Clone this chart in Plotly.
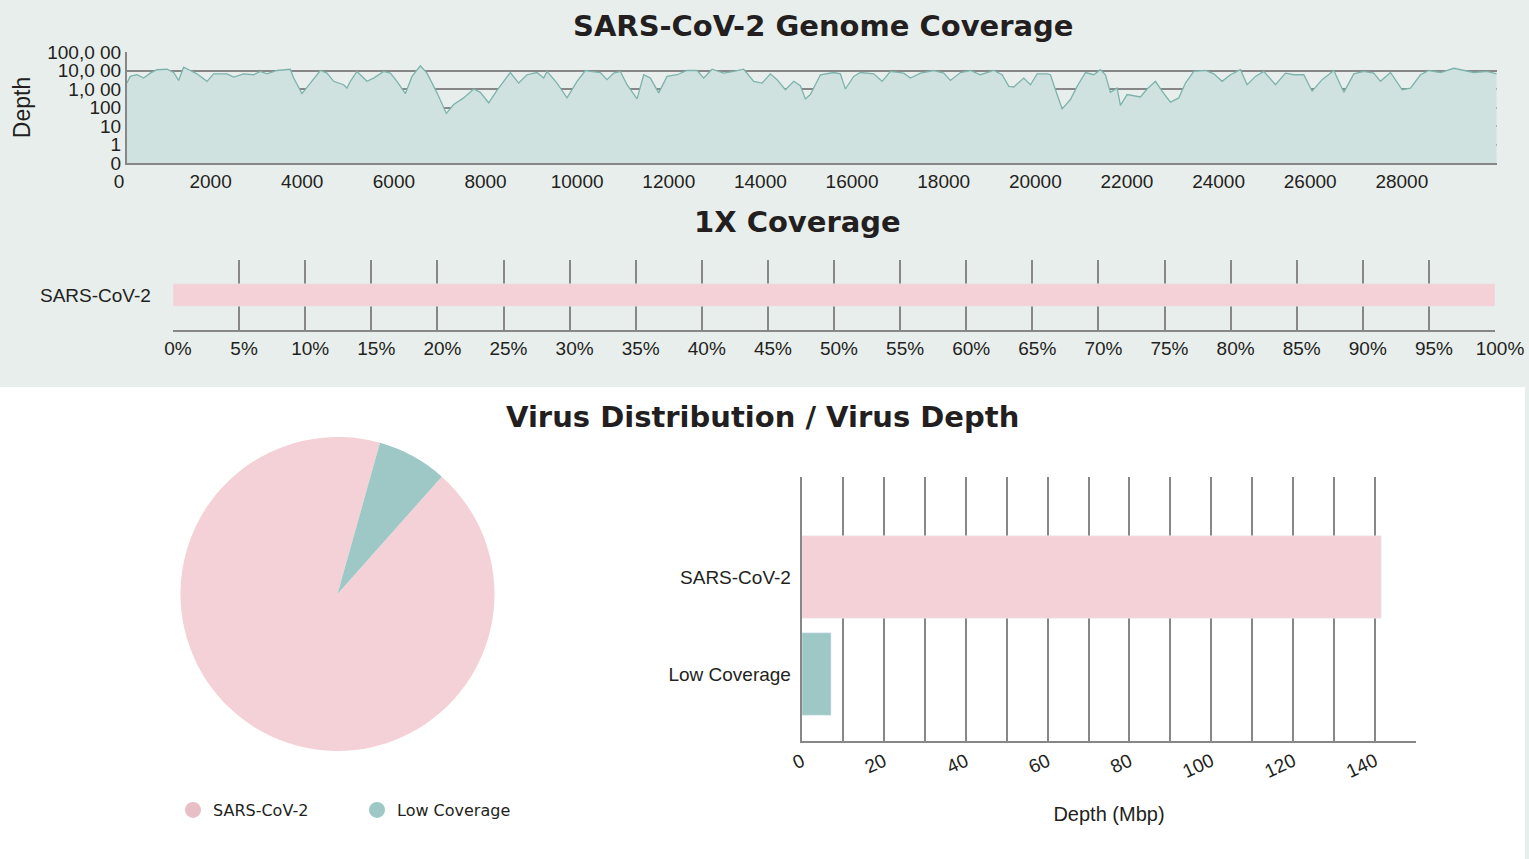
import plotly.graph_objects as go

# ---------------- data ----------------
GENOME_POS = [0, 70, 218, 363, 509, 655, 873, 1018, 1127, 1236, 1382, 1527, 1746, 1891, 2182, 2328, 2546, 2764,
              2910, 3055, 3274, 3565, 3638, 3820, 4001, 4220, 4365, 4511, 4729, 4802, 4875, 5020, 5238, 5384,
              5602, 5748, 5893, 6075, 6221, 6403, 6548, 6767, 6970, 7130, 7348, 7567, 7712, 7894, 8076, 8222,
              8367, 8549, 8731, 8949, 9095, 9168, 9386, 9604, 9823, 10005,
              10114, 10332, 10478, 10623, 10769, 10914, 11133, 11278, 11424, 11606, 11788, 12006, 12224, 12443,
              12588, 12770, 13025, 13243, 13461, 13680, 13862, 14043, 14189, 14371, 14553, 14698, 14807, 14916,
              15135, 15426, 15571, 15681, 15862, 16008, 16299, 16481, 16663, 16954, 17100, 17318, 17609, 17827,
              17973, 18191, 18410, 18628, 18919, 19101, 19247, 19356, 19574, 19720, 19865, 20083,
              20156, 20265, 20411, 20592, 20738, 20920, 21102, 21247, 21356, 21465, 21611, 21684, 21829, 22120,
              22266, 22448, 22593, 22775, 22957, 23103, 23285, 23539, 23721, 23903, 24085, 24303, 24449, 24631,
              24813, 25067, 25286, 25468, 25686, 25868, 26086, 26341, 26559, 26778, 26996, 27214, 27360, 27578,
              27833, 28015, 28233, 28415, 28670, 28961, 29179, 29397, 29688, 29892]
GENOME_DEPTH = [2100, 4800, 5900, 3900, 7200, 11000, 11700, 7800, 2900, 15100, 10000, 6600, 2600, 6600, 6600, 4400,
                6600, 5900, 8900, 6600, 10000, 11700, 3900, 560, 2100, 10000, 7200, 2600, 1700, 1120, 2600, 8900,
                2600, 3900, 8900, 7200, 2600, 560, 4800, 17800, 7200, 620, 48, 145, 330, 1000, 660, 180, 850, 2600,
                7800, 2100, 5900, 7800, 3900, 8900, 2100, 330, 2600, 10000,
                8900, 7800, 3200, 7200, 8900, 1700, 290, 5900, 3900, 620, 4800, 5900, 10000, 10000,
                3900, 11700, 7200, 8900, 11700, 2600, 2100, 6600, 3200, 910, 2600, 1500, 290, 500,
                5900, 7800, 6600, 1000, 4800, 7800, 6600, 2600, 8900, 7200, 3900, 7200, 10000, 7200,
                2900, 7800, 10000, 5900, 10000, 5900, 1380, 1290, 3900, 1700, 6600, 6600,
                5900, 910, 85, 270, 1380, 7800, 5900, 11000, 5900, 660, 1120, 130, 500, 370,
                1000, 2600, 760, 195, 330, 2100, 8900, 10000, 6600, 2600, 5900, 11000, 1700, 4800,
                8900, 1700, 7200, 5900, 5900, 760, 3200, 10000, 660, 6600, 8900, 7200, 2600, 7800,
                910, 1120, 5900, 10000, 7800, 13200, 10000, 7800, 8900, 6600]
GENOME_LENGTH = 29903
X_TICKS = list(range(0, 28001, 2000))
DEPTH_TICKVALS = [0.1, 1, 10, 100, 1000, 10000, 100000]
DEPTH_TICKTEXT = ["0", "1", "10", "100", "1,0 00", "10,0 00", "100,0 00"]

COVERAGE_NAMES = ["SARS-CoV-2"]
COVERAGE_PCT = [100]

PIE_LABELS = ["SARS-CoV-2", "Low Coverage"]
PIE_VALUES = [92.8, 7.2]

BAR_LABELS = ["Low Coverage", "SARS-CoV-2"]
BAR_DEPTH = [7.1, 141.5]

# ---------------- style ----------------
W, H = 1529, 859
PINK = "#f4d1d6"
PINK_LEG = "#e8bfc6"
TEAL = "#9dc8c5"
LINE = "#7db3ac"
FILL = "#cfe2e0"
BG = "#e8eeec"
GRID = "#878787"
TXT = "#231f20"
NARROW = "Liberation Sans, Arial, sans-serif"
BOLD = "DejaVu Sans, Verdana, sans-serif"


def fx(px):
    return px / W


def fy(py):
    return 1 - py / H


fig = go.Figure()

# genome coverage
fig.add_trace(go.Scatter(x=GENOME_POS, y=GENOME_DEPTH, mode="lines", fill="tozeroy",
                         line=dict(color=LINE, width=1.3), fillcolor=FILL,
                         xaxis="x", yaxis="y", showlegend=False, hoverinfo="x+y"))

# 1X coverage
fig.add_trace(go.Bar(x=COVERAGE_PCT, y=COVERAGE_NAMES, orientation="h", marker_color=PINK,
                     width=0.32, xaxis="x2", yaxis="y2", showlegend=False))

# pie
fig.add_trace(go.Pie(labels=PIE_LABELS, values=PIE_VALUES, sort=False, direction="clockwise",
                     rotation=PIE_VALUES[1] / sum(PIE_VALUES) * 360 + 15.7,
                     marker=dict(colors=[PINK, TEAL]), textinfo="none", showlegend=False,
                     domain=dict(x=[fx(180.5), fx(494.5)], y=[fy(751), fy(437)])))

# depth bars
fig.add_trace(go.Bar(x=BAR_DEPTH, y=BAR_LABELS, orientation="h", marker_color=[TEAL, PINK],
                     width=0.85, xaxis="x3", yaxis="y3", showlegend=False))

# legend proxies
for lab, col in zip(PIE_LABELS, [PINK_LEG, TEAL]):
    fig.add_trace(go.Scatter(x=[None], y=[None], mode="markers", name=lab,
                             marker=dict(symbol="circle", size=26, color=col),
                             xaxis="x3", yaxis="y3", showlegend=True))

tickfont = dict(family=NARROW, size=19, color=TXT)

fig.update_layout(
    width=W, height=H,
    margin=dict(l=0, r=0, t=0, b=0, autoexpand=False),
    paper_bgcolor=BG, plot_bgcolor="rgba(0,0,0,0)",
    showlegend=True,
    legend=dict(orientation="h", x=fx(173), xanchor="left", y=fy(810), yanchor="middle",
                font=dict(family="DejaVu Sans, sans-serif", size=16, color=TXT),
                entrywidth=139, itemsizing="trace", bgcolor="rgba(0,0,0,0)"),
    xaxis=dict(domain=[fx(127), fx(1497)], range=[0, GENOME_LENGTH], tickvals=X_TICKS, tickformat="d",
               showgrid=False, showline=True, linecolor=GRID, linewidth=2, ticks="",
               ticklabelshift=-8,
               tickfont=tickfont, zeroline=False, automargin=False),
    yaxis=dict(domain=[fy(163), fy(52)], type="log", range=[-1, 5], tickvals=DEPTH_TICKVALS,
               ticktext=DEPTH_TICKTEXT, showgrid=True, gridcolor=GRID, gridwidth=2,
               showline=True, linecolor=GRID, linewidth=2, ticks="", tickfont=tickfont,
               title=dict(text="Depth", font=dict(family=NARROW, size=23, color=TXT), standoff=10),
               zeroline=False, automargin=False),
    xaxis2=dict(domain=[fx(173), fx(1495)], range=[0, 100], dtick=5, ticksuffix="%",
                showgrid=True, gridcolor=GRID, gridwidth=2, showline=True, linecolor=GRID,
                linewidth=2, ticks="", tickfont=tickfont, zeroline=False, anchor="y2", automargin=False,
                ticklabelshift=5),
    yaxis2=dict(domain=[fy(330), fy(260)], type="category", range=[-0.5, 0.5], showgrid=False,
                showline=False, ticks="", tickfont=tickfont, ticksuffix="    ", anchor="x2",
                automargin=False),
    xaxis3=dict(domain=[fx(802), fx(1416)], type="linear", range=[0, 150], dtick=20, tickangle=-25,
                showgrid=True, gridcolor=GRID, gridwidth=2,
                minor=dict(dtick=10, showgrid=True, gridcolor=GRID, gridwidth=2),
                showline=True, linecolor=GRID, linewidth=2, ticks="", tickfont=tickfont,
                zeroline=False, anchor="y3", automargin=False,
                title=dict(text="Depth (Mbp)", font=dict(family=NARROW, size=20, color=TXT), standoff=26)),
    yaxis3=dict(domain=[fy(741), fy(477)], type="category", categoryorder="array",
                categoryarray=BAR_LABELS, range=[-0.69, 2.03], showgrid=False, showline=True,
                linecolor=GRID, linewidth=2, ticks="", tickfont=tickfont, ticksuffix=" ",
                anchor="x3", zeroline=False, automargin=False),
    shapes=[dict(type="rect", xref="paper", yref="paper", x0=0, x1=fx(1525), y0=0, y1=fy(387),
                 fillcolor="white", line=dict(width=0), layer="below")],
    annotations=[
        dict(text="<b>SARS-CoV-2 Genome Coverage</b>", x=fx(823), y=fy(26), xref="paper", yref="paper",
             xanchor="center", yanchor="middle",
             showarrow=False, font=dict(family=BOLD, size=29, color=TXT)),
        dict(text="<b>1X Coverage</b>", x=fx(797), y=fy(222), xref="paper", yref="paper",
             xanchor="center", yanchor="middle",
             showarrow=False, font=dict(family=BOLD, size=29, color=TXT)),
        dict(text="<b>Virus Distribution / Virus Depth</b>", x=fx(762), y=fy(417), xref="paper",
             yref="paper", xanchor="center", yanchor="middle",
             showarrow=False, font=dict(family=BOLD, size=29, color=TXT)),
    ],
)

fig.write_html("out.html", config={"displayModeBar": False},
               post_script="document.body.style.margin='0';document.body.style.overflow='hidden';")
